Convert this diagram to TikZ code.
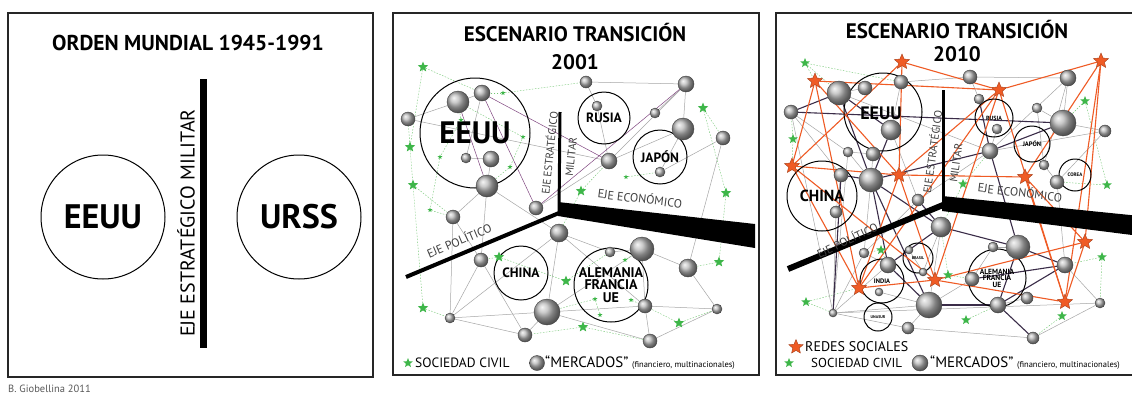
\documentclass[tikz,border=0pt]{standalone}
\usepackage{fontspec}
\setmainfont{PT Sans}
\usetikzlibrary{shapes.geometric,backgrounds}
\definecolor{ored}{HTML}{EF5B25}
\definecolor{gstar}{HTML}{3EB649}
\definecolor{dpurp}{HTML}{3A2C48}
\newcommand\myfs[1]{\fontsize{#1}{#1}\selectfont}
\begin{document}
\begin{tikzpicture}[x=1pt,y=-1pt,
  ball/.style={circle,inner sep=0pt,minimum size=#1,ball color=gray!55,draw=black!75,line width=0.4pt},
  sstar/.style={star,star points=5,star point ratio=2.3,inner sep=0pt,minimum size=#1,fill=gstar,draw=none},
  rstar/.style={star,star points=5,star point ratio=2.2,inner sep=0pt,minimum size=#1,fill=ored,draw=ored!70!black,line width=0.4pt},
  ring/.style={circle,draw=black,line width=1pt,inner sep=0pt,minimum size=#1,align=center},
  rlab/.style={inner sep=0pt,align=center},
  frame/.style={draw=black!85,line width=1.2pt},
  glink/.style={gray!70,line width=0.5pt},
  vlink/.style={violet!45!gray,line width=0.5pt},
  plink/.style={dpurp,line width=1.1pt},
  olink/.style={ored,line width=1.1pt},
  slink/.style={green!60!black!55,line width=0.4pt,dash pattern=on 1.5pt off 1.5pt},
  axlab/.style={text=black!75,inner sep=0pt},
  ttl/.style={font=\bfseries\myfs{21}},
  leg/.style={anchor=west,inner sep=0pt,font=\myfs{13.5}}
]
\useasboundingbox (0,0) rectangle (1132,394);

% ================= PANEL 1 =================
\draw[frame] (8,13) rectangle (373,377);
\node[font=\bfseries\myfs{21.5}] (t1) at (188,43) {ORDEN MUNDIAL 1945-1991};
\coordinate (m1t) at (203,79);
\coordinate (m1b) at (203,348);
\draw[line width=7pt] (m1t) -- (m1b);
\node[rotate=90,font=\myfs{20},inner sep=0pt] (ejemil) at (186,223) {EJE ESTRATÉGICO MILITAR};
\node[ring=124] (eeuu1) at (103,217) {};
\node[rlab,font=\bfseries\myfs{34}] (eeuu1t) at (eeuu1) {EEUU};
\node[ring=124] (urss1) at (299,217) {};
\node[rlab,font=\bfseries\myfs{34}] (urss1t) at (urss1) {URSS};
\node[anchor=west,font=\myfs{10.5},text=gray!70!black,inner sep=0pt] (cred) at (8,389) {B. Giobellina 2011};

% ================= PANEL 2 =================
\draw[frame] (393,13) rectangle (759,375);
\node[ttl] (t2a) at (575,33) {ESCENARIO TRANSICIÓN};
\node[ttl] (t2b) at (575,62) {2001};

% rings
\node[ring=110] (r2eeuu) at (475,133) {};
\node[rlab,font=\bfseries\myfs{31}] (r2eeuut) at (r2eeuu) {EEUU};
\node[ring=52] (r2rus) at (604,118) {};
\node[rlab,font=\bfseries\myfs{13.5}] (r2rust) at (r2rus) {RUSIA};
\node[ring=54] (r2jap) at (660,157) {};
\node[rlab,font=\bfseries\myfs{13.5}] (r2japt) at (r2jap) {JAPÓN};
\node[ring=54] (r2chi) at (521,273) {};
\node[rlab,font=\bfseries\myfs{13.5}] (r2chit) at (r2chi) {CHINA};
\node[ring=74] (r2ale) at (611,285) {};
\node[rlab,font=\bfseries\myfs{14}] (r2alet) at (r2ale) {ALEMANIA\\[-1.5pt]FRANCIA\\[-1.5pt]UE};

% axes
\coordinate (j2) at (559,213);
\coordinate (v2t) at (560,112);
\coordinate (p2e) at (406,277);
\draw[line width=3pt] (v2t) -- (j2);
\draw[line width=4pt] (p2e) -- (j2);
\fill (558,202) -- (755,224) -- (755,248) -- (558,216) -- cycle;
\node[axlab,rotate=84,font=\myfs{11}] (l2ee) at (549,153) {EJE ESTRATÉGICO};
\node[axlab,rotate=84,font=\myfs{11}] (l2mi) at (571,157) {MILITAR};
\node[axlab,rotate=-7,font=\myfs{12}] (l2ec) at (640,198) {EJE ECONÓMICO};
\node[axlab,rotate=23,font=\myfs{12}] (l2po) at (459,240) {EJE POLÍTICO};

% balls
\foreach \n/\x/\y/\s in {a1/408/119/14,a2/458/102/22,a3/482/93/16,a4/466/158/10,a5/491/159/16,
  a6/487/186/22,a7/586/82/12,a8/686/84/16,a9/597/106/10,a10/655/113/10,a11/683/129/22,
  a12/723/138/14,a13/609/161/16,a14/660/172/10,a15/536/208/14,a16/453/217/14,a17/559/233/18,
  a18/481/260/14,a19/610/252/10,a20/642/249/24,a21/688/268/18,a22/547/312/26,a23/645/306/14,
  a24/717/309/10,a25/450/318/10,a26/525/335/14,a27/650/341/14}
  \node[ball=\s] (\n) at (\x,\y) {};
% civil society stars
\foreach \n/\x/\y in {s1/423/67,s2/410/147,s3/413/185,s4/703/108,s5/726/193,s6/581/191,
  s7/499/257,s8/566/281,s9/423/308,s10/583/327,s11/679/323,s12/719/262}
  \node[sstar=11] (\n) at (\x,\y) {};
\foreach \n/\x/\y in {d1/503/93,d2/461/120,d3/595/299,d4/600/315,d5/631/300,d6/625/260,
  d7/440/157,d8/510/167,d9/523/137,d10/626/177,d11/430/210}
  \node[sstar=5] (\n) at (\x,\y) {};

% legend
\node[sstar=10] (ls2) at (408,363) {};
\node[leg] (lt2) at (415,363) {SOCIEDAD CIVIL};
\node[ball=15] (lb2) at (537,363) {};
\node[leg] (lm2) at (545,363) {{\myfs{15}“MERCADOS”} {\myfs{8.5}(financiero, multinacionales)}};

% ================= PANEL 3 =================
\draw[frame] (776,13) rectangle (1140,375);
\node[ttl] (t3a) at (957,30) {ESCENARIO TRANSICIÓN};
\node[ttl] (t3b) at (957,54) {2010};

\node[ring=78] (r3eeuu) at (883,112) {};
\node[rlab,font=\bfseries\myfs{18}] (r3eeuut) at (881,113) {EEUU};
\node[ring=70] (r3chi) at (822,196) {};
\node[rlab,font=\bfseries\myfs{16}] (r3chit) at (r3chi) {CHINA};
\node[ring=38] (r3rus) at (994,118) {};
\node[rlab,font=\bfseries\myfs{6}] (r3rust) at (r3rus) {RUSIA};
\node[ring=36] (r3jap) at (1032,144) {};
\node[rlab,font=\bfseries\myfs{6.5}] (r3japt) at (r3jap) {JAPÓN};
\node[ring=32] (r3cor) at (1075,175) {};
\node[rlab,font=\bfseries\myfs{5}] (r3cort) at (r3cor) {COREA};
\node[ring=44] (r3ind) at (882,281) {};
\node[rlab,font=\bfseries\myfs{6.5}] (r3indt) at (r3ind) {INDIA};
\node[ring=30] (r3bra) at (918,258) {};
\node[rlab,font=\bfseries\myfs{4}] (r3brat) at (r3bra) {BRASIL};
\node[ring=28] (r3una) at (878,317) {};
\node[rlab,font=\bfseries\myfs{4}] (r3unat) at (r3una) {UNASUR};
\node[ring=58] (r3ale) at (997,278) {};
\node[rlab,font=\bfseries\myfs{7.5}] (r3alet) at (r3ale) {ALEMANIA\\[-1pt]FRANCIA\\[-1pt]UE};

\coordinate (j3) at (943,205);
\coordinate (v3t) at (943,90);
\coordinate (p3e) at (788,269);
\draw[line width=3pt] (v3t) -- (j3);
\draw[line width=6pt] (p3e) -- (j3);
\fill (942,196) -- (1140,216) -- (1140,236) -- (942,211) -- cycle;
\node[axlab,rotate=82,font=\myfs{11}] (l3ee) at (932,152) {EJE ESTRATÉGICO};
\node[axlab,rotate=82,font=\myfs{11}] (l3mi) at (956,163) {MILITAR};
\node[axlab,rotate=-7,font=\myfs{12}] (l3ec) at (1020,192) {EJE ECONÓMICO};
\node[axlab,rotate=26,font=\myfs{11.5}] (l3po) at (847,240) {EJE POLÍTICO};

\foreach \n/\x/\y/\s in {b1/791/112/14,b2/839/93/24,b3/865/88/14,b4/901/82/14,b5/891/130/20,
  b6/848/152/10,b7/873/154/14,b8/841/175/14,b9/871/180/24,b10/918/200/12,b11/970/77/14,
  b12/1068/78/16,b13/979/99/10,b14/1037/108/10,b15/1063/123/26,b16/1105/131/12,b17/997/129/10,
  b18/990/151/16,b19/1044/165/10,b20/1057/182/14,b21/941/227/20,b22/864/253/10,b23/888/265/16,
  b24/909/250/8,b25/923/272/8,b26/879/292/8,b27/929/305/26,b28/833/313/8,b29/908/328/12,
  b30/1018/247/24,b31/993/247/10,b32/1065/265/16,b33/972/279/14,b34/1027/298/12,b35/998/305/16,
  b36/1100/303/10,b37/1033/338/12,b38/836/212/12}
  \node[ball=\s] (\n) at (\x,\y) {};
\foreach \n/\x/\y in {o1/902/62,o2/815/81,o3/1101/61,o4/999/90,o5/792/166,o6/899/175,
  o7/1025/177,o8/859/288,o9/935/280,o10/1085/242,o11/1065/302}
  \node[rstar=16] (\n) at (\x,\y) {};
\foreach \n/\x/\y in {g1/805/63,g2/793/139,g3/1085/101,g4/1107/185,g5/881/250,g6/806/302,
  g7/948/275,g8/1102/257,g9/1062/316,g10/966/320,g11/963/184}
  \node[sstar=10] (\n) at (\x,\y) {};

\node[rstar=15] (lo3) at (796,347) {};
\node[leg,font=\myfs{14}] (lto3) at (805,347) {REDES SOCIALES};
\node[sstar=10] (ls3) at (789,363) {};
\node[leg,font=\myfs{13}] (lt3) at (811,363) {SOCIEDAD CIVIL};
\node[ball=16] (lb3) at (920,363) {};
\node[leg] (lm3) at (930,363) {{\myfs{15}“MERCADOS”} {\myfs{8.5}(financiero, multinacionales)}};

% ================= CONNECTORS (behind) =================
\begin{scope}[on background layer]
\fill[white] (0,0) rectangle (1132,394);
% panel 2
\foreach \u/\v in {a1/a2,a2/a3,a3/a4,a4/a5,a5/a6,a1/a13,a6/a16,a6/a18,a16/a25,a18/a25,
  a25/a26,a25/a22,a25/a17,a22/a17,a22/a20,a22/a23,a23/a24,a19/a20,a20/a21,a21/a12,a17/a23,
  a7/a8,a7/a9,a9/a13,a8/a13,a11/a13,a11/a14,a10/a8,a15/a13,a22/a27,a23/a27,a20/a23,
  a17/a19,a16/a18,a12/a14,a26/a18,a6/a17,a8/a11,a21/a24,a27/a24,a26/a22}
  \draw[glink] (\u) -- (\v);
\foreach \u/\v in {a3/a15,a3/a13,a8/a15,a2/a6}
  \draw[vlink] (\u) -- (\v);
\foreach \u/\v in {s1/a3,s1/s2,s2/a1,s2/s3,s3/a16,s3/s9,s9/a25,s7/a18,s7/s8,s8/a19,s6/a13,
  s6/a17,s4/a12,s4/s5,s5/s12,s12/a21,s11/a24,s10/a27,s10/a26,s11/a23,d1/a7,d1/a3,d2/d7,
  d7/d11,d8/d9,d9/a2,d10/a14,d3/d4,d5/a23,d6/a20,d11/a16,d2/a2,d3/a22,d8/a6}
  \draw[slink] (\u) -- (\v);
% panel 3
\foreach \u/\v in {g1/b2,g1/b4,g1/o2,g2/b1,g2/o5,g3/b15,g3/g4,g4/b20,g5/b22,g6/b28,g7/b21,
  g8/b32,g9/b37,g10/b35,g11/b18,g11/b21,g5/b23,g7/b33,g8/b36,g6/o8}
  \draw[slink] (\u) -- (\v);
\foreach \u/\v in {b1/b8,b3/b2,b4/b5,b6/b7,b7/b9,b11/b12,b12/b18,b12/b15,b14/b15,b15/b16,
  b16/b20,b19/b20,b17/b18,b18/b10,b28/b29,b28/b36,b29/b37,b36/b37,b34/b35,b33/b31,b31/b30,
  b22/b23,b24/b25,b25/b21,b26/b27,b28/b22,b38/b8,b1/b28,b20/b32,b32/b36,b33/b27,b29/b27,
  b11/b4,b14/b19,b10/b22,b13/b11,b16/b18,b5/b10,b6/b9,b21/b27,b1/b6,b38/b28,b2/b18,b12/b19,
  b28/b23,b28/b27,b22/b9,b6/b28}
  \draw[glink] (\u) -- (\v);
\foreach \u/\v in {b1/b2,b1/b15,b2/b9,b9/b21,b18/b15,b18/b9,b18/b30,b21/b30,b30/b32,b30/b35,
  b35/b37,b33/b32,b23/b27,b27/b35,b8/b28,b5/b9,b13/b18,b10/b21,b21/b23,b9/b27,b2/b5,b9/b23,
  b8/b9,b32/b35}
  \draw[plink] (\u) -- (\v);
\foreach \u/\v in {o1/o4,o2/o4,o4/o3,o1/o6,o2/o5,o2/o6,o5/o6,o6/o4,o6/o7,o7/o3,o3/o10,
  o7/o10,o7/o11,o10/o11,o9/o11,o8/o9,o8/o5,o6/o9,o4/o8,o9/o10,o6/o8,o1/o5,o4/o9,o2/o8,
  o5/o9,o4/o11,o3/o11}
  \draw[olink] (\u) -- (\v);
\end{scope}
\end{tikzpicture}
\end{document}
